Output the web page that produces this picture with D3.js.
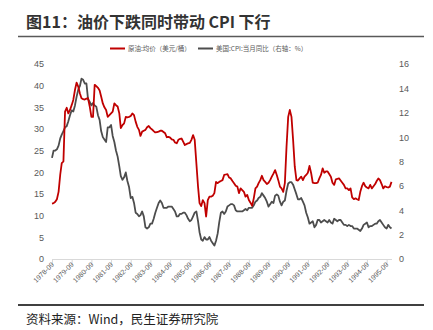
<!DOCTYPE html>
<html>
<head>
<meta charset="utf-8">
<script src="https://cdn.jsdelivr.net/npm/d3@7"></script>
<style>
  html, body { margin: 0; padding: 0; background: #fff; }
  svg { display: block; font-family: "Microsoft YaHei", "Noto Sans CJK SC", sans-serif; }
</style>
</head>
<body>
<svg id="chart" width="433" height="330"></svg>
<script>
// Monthly series, 1978-09 .. 1995-12
const startMonth = "1978-09";
const oilPrice = [
  12.8, 12.9, 13.2, 13.8, 15.5, 19.5, 22.1, 22.5, 34.0, 34.9, 33.6, 34.4,
  35.5, 36.7, 39.0, 40.7, 39.8, 38.2, 37.1, 36.9, 36.8, 37.0, 37.1, 35.2,
  32.8, 32.8, 40.2, 39.9, 39.5, 38.9, 37.5, 35.9, 35.0, 34.4, 32.8, 33.2,
  33.6, 34.0, 35.9, 35.5, 35.2, 33.6, 30.2, 30.9, 31.3, 32.8, 32.7, 32.8,
  33.0, 33.6, 33.2, 31.7, 30.5, 29.8, 28.4, 29.4, 29.6, 29.8, 30.4, 30.7,
  30.2, 29.9, 29.5, 29.2, 29.3, 29.4, 29.6, 29.6, 29.3, 29.0, 28.1, 28.2,
  28.0, 27.6, 27.5, 26.9, 26.7, 27.5, 27.7, 27.8, 27.1, 26.3, 26.5, 26.7,
  26.8, 27.5, 28.6, 27.5, 22.1, 16.7, 12.9, 12.2, 13.6, 12.9, 9.8, 13.6,
  14.4, 14.4, 14.6, 15.2, 17.8, 17.5, 17.8, 18.0, 18.2, 19.4, 19.5, 19.6,
  18.8, 18.6, 18.0, 17.5, 16.9, 16.7, 15.2, 16.3, 15.9, 15.5, 14.4, 14.8,
  13.6, 13.0, 12.3, 14.0, 16.3, 16.7, 17.5, 18.2, 19.2, 18.2, 17.8, 17.3,
  17.6, 18.2, 19.0, 19.7, 20.5, 19.4, 18.2, 16.7, 16.3, 15.5, 17.5, 25.9,
  32.8, 34.4, 32.8, 27.5, 21.3, 18.2, 18.1, 18.6, 19.0, 18.2, 19.0, 19.4,
  19.9, 21.5, 19.8, 17.6, 17.5, 17.5, 17.6, 18.6, 19.4, 20.9, 19.9, 20.2,
  20.2, 19.6, 19.0, 17.6, 17.1, 18.4, 18.5, 18.6, 18.1, 17.6, 17.1, 16.3,
  16.3, 15.9, 16.3, 14.2, 13.8, 14.0, 13.8, 13.6, 15.5, 16.8, 17.6, 16.8,
  16.5, 16.3, 17.1, 16.3, 16.8, 17.3, 18.0, 18.6, 18.2, 17.3, 16.3, 16.8,
  16.6, 16.5, 16.7, 17.8
];
const cpiYoY = [
  8.3, 8.9, 8.9, 9.0,
  9.3, 9.9, 10.2, 10.5, 10.8, 10.9, 11.3, 11.8, 12.2, 12.1, 12.6, 13.3,
  13.9, 14.2, 14.8, 14.7, 14.4, 14.4, 13.1, 12.9, 12.6, 12.8, 12.6, 12.5,
  11.8, 11.4, 10.5, 10.0, 9.8, 9.6, 10.8, 10.8, 11.0, 10.1, 9.6, 8.9,
  8.4, 7.6, 6.8, 6.5, 6.7, 7.1, 6.4, 5.9, 5.0, 5.1, 4.6, 3.8,
  3.7, 3.5, 3.6, 3.9, 3.5, 2.6, 2.5, 2.6, 2.9, 2.9, 3.3, 3.8,
  4.2, 4.6, 4.8, 4.6, 4.2, 4.2, 4.2, 4.3, 4.3, 4.3, 4.1, 3.9,
  3.5, 3.5, 3.7, 3.7, 3.8, 3.8, 3.6, 3.3, 3.1, 3.2, 3.5, 3.8,
  3.9, 3.1, 2.2, 1.6, 1.5, 1.8, 1.6, 1.6, 1.8, 1.5, 1.3, 1.1,
  1.5, 2.1, 3.0, 3.8, 3.9, 3.7, 3.9, 4.3, 4.4, 4.5, 4.5, 4.4,
  4.0, 3.9, 3.9, 3.9, 3.9, 4.0, 4.1, 4.0, 4.2, 4.2, 4.2, 4.4,
  4.7, 4.8, 5.0, 5.1, 5.4, 5.2, 5.0, 4.7, 4.3, 4.5, 4.7, 4.6,
  5.2, 5.3, 5.2, 4.7, 4.4, 4.7, 4.8, 5.6, 6.2, 6.3, 6.3, 6.1,
  5.7, 5.3, 4.9, 4.9, 5.0, 4.7, 4.4, 3.8, 3.4, 2.9, 3.0, 3.1,
  2.6, 2.8, 3.2, 3.2, 3.0, 3.1, 3.2, 3.1, 3.0, 3.2, 3.0, 2.9,
  3.3, 3.2, 3.1, 3.2, 3.2, 3.0, 2.8, 2.8, 2.7, 2.8, 2.7, 2.7,
  2.5, 2.5, 2.5, 2.4, 2.3, 2.5, 2.8, 2.9, 3.0, 2.6, 2.7, 2.7,
  2.8, 2.9, 2.9, 3.1, 3.2, 3.0, 2.8, 2.6, 2.5, 2.8, 2.6, 2.5
];
const leftTicks = [0, 5, 10, 15, 20, 25, 30, 35, 40, 45];
const rightTicks = [0, 2, 4, 6, 8, 10, 12, 14, 16];
const xTickLabels = ["1978-09","1979-09","1980-09","1981-09","1982-09","1983-09",
  "1984-09","1985-09","1986-09","1987-09","1988-09","1989-09","1990-09",
  "1991-09","1992-09","1993-09","1994-09","1995-09"];
const seriesNames = ["原油:均价（美元/桶）", "美国:CPI:当月同比（右轴：%）"];
const titleText = "图11：油价下跌同时带动 CPI 下行";
const sourceText = "资料来源：Wind，民生证券研究院";

const parseMonth = d3.timeParse("%Y-%m");
const fmtMonth = d3.timeFormat("%Y-%m");
const t0 = parseMonth(startMonth);
const dates = oilPrice.map((_, i) => d3.timeMonth.offset(t0, i));

const svg = d3.select("#chart");
const red = "#c00000", grey = "#4d4d4d", labelColor = "#595959";

const x = d3.scaleTime().domain([dates[0], dates[dates.length - 1]]).range([52, 391.5]);
const yL = d3.scaleLinear().domain([0, 45]).range([259, 64]);
const yR = d3.scaleLinear().domain([0, 16]).range([259, 64]);

// Title and rules
svg.append("text").attr("x", 26).attr("y", 28)
  .attr("font-size", 16).attr("font-weight", "bold").attr("fill", "#333")
  .text(titleText);
svg.append("line").attr("x1", 18).attr("x2", 424).attr("y1", 36.5).attr("y2", 36.5)
  .attr("stroke", "#595959").attr("stroke-width", 1.5);
svg.append("line").attr("x1", 18).attr("x2", 424).attr("y1", 305).attr("y2", 305)
  .attr("stroke", "#404040").attr("stroke-width", 2);
svg.append("text").attr("x", 26).attr("y", 324)
  .attr("font-size", 12.5).attr("fill", "#222").text(sourceText);

// Legend
const legend = svg.append("g").attr("font-size", 6.5).attr("fill", labelColor);
[[110, red, seriesNames[0]], [198, grey, seriesNames[1]]].forEach(([lx, c, name]) => {
  legend.append("line").attr("x1", lx).attr("x2", lx + 15).attr("y1", 48.5).attr("y2", 48.5)
    .attr("stroke", c).attr("stroke-width", 2);
  legend.append("text").attr("x", lx + 18).attr("y", 51).text(name);
});

// X axis
const xAxis = d3.axisBottom(x)
  .tickValues(xTickLabels.map(parseMonth))
  .tickFormat(fmtMonth).tickSize(4).tickSizeOuter(0);
const gx = svg.append("g").attr("transform", "translate(0,259)").call(xAxis);
gx.select(".domain").attr("stroke", "#d9d9d9");
gx.selectAll(".tick line").attr("stroke", "#d9d9d9");
gx.selectAll(".tick text")
  .attr("fill", labelColor).attr("font-size", 7)
  .attr("text-anchor", "end").attr("dy", 0).attr("y", 0)
  .attr("transform", "translate(2,6) rotate(-45)");

// Y axes (labels only)
const gl = svg.append("g").attr("transform", "translate(44,0)")
  .call(d3.axisLeft(yL).tickValues(leftTicks).tickSize(0).tickPadding(0));
gl.select(".domain").remove();
gl.selectAll("text").attr("fill", labelColor).attr("font-size", 9);

const gr = svg.append("g").attr("transform", "translate(399,0)")
  .call(d3.axisRight(yR).tickValues(rightTicks).tickSize(0).tickPadding(0));
gr.select(".domain").remove();
gr.selectAll("text").attr("fill", labelColor).attr("font-size", 9);

// Lines
const lineL = d3.line().x((d, i) => x(dates[i])).y(d => yL(d));
const lineR = d3.line().x((d, i) => x(dates[i])).y(d => yR(d));
svg.append("path").datum(cpiYoY).attr("d", lineR)
  .attr("fill", "none").attr("stroke", grey).attr("stroke-width", 1.8).attr("stroke-linejoin", "round");
svg.append("path").datum(oilPrice).attr("d", lineL)
  .attr("fill", "none").attr("stroke", red).attr("stroke-width", 1.8).attr("stroke-linejoin", "round");
</script>
</body>
</html>
